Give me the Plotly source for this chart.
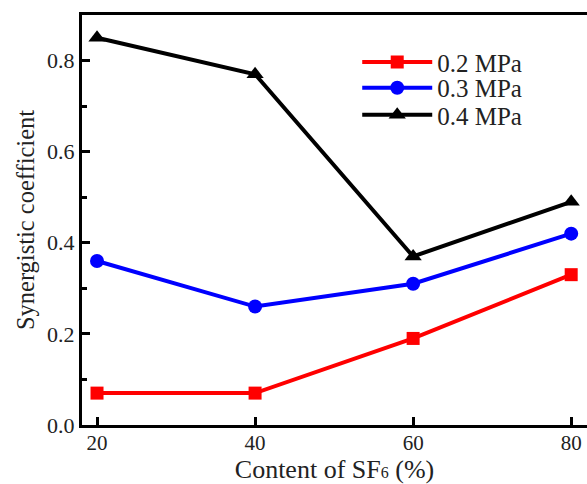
import plotly.graph_objects as go

content = [20, 40, 60, 80]
p02 = [0.07, 0.07, 0.19, 0.33]
p03 = [0.36, 0.26, 0.31, 0.42]
p04 = [0.85, 0.77, 0.37, 0.49]
series_names = ["0.2 MPa", "0.3 MPa", "0.4 MPa"]
colors = ["#ff0000", "#0000ff", "#000000"]
symbols = ["square", "circle", "triangle-up"]
marker_sizes = [13, 14, 15]
legend_ids = ["legend", "legend2", "legend3"]
legend_y = [0.885, 0.822, 0.756]

FONT = "Liberation Serif"

fig = go.Figure()
for name, vals, c, s, ms, lg in zip(series_names, [p02, p03, p04], colors, symbols, marker_sizes, legend_ids):
    fig.add_trace(go.Scatter(
        x=content, y=vals, name=name, mode="lines+markers",
        line=dict(color=c, width=4),
        marker=dict(symbol=s, size=ms, color=c),
        legend=lg,
    ))

legend_common = dict(xanchor="left", yanchor="middle", bgcolor="rgba(0,0,0,0)",
                     font=dict(size=25, family=FONT, color="#222"), itemwidth=70)
leg = {}
for lg, ly in zip(legend_ids, legend_y):
    leg[lg] = dict(x=0.545, y=ly, **legend_common)

fig.update_layout(
    width=587, height=484,
    margin=dict(l=82, r=0, t=15, b=59),
    paper_bgcolor="white", plot_bgcolor="white",
    font=dict(family=FONT, size=22, color="#222"),
    showlegend=True,
    xaxis=dict(
        range=[18.1, 82], tickvals=content, ticktext=[str(v) for v in content],
        showline=True, linecolor="black", linewidth=3, mirror=True,
        ticks="inside", ticklen=8, tickwidth=3, tickcolor="black",
        showgrid=False, zeroline=False, automargin=False,
        ticklabelstandoff=-3,
        title=dict(text='Content of SF<span style="font-size:16px">6</span> (%)',
                   font=dict(size=26, family=FONT), standoff=2),
        tickfont=dict(size=21, family=FONT),
    ),
    yaxis=dict(
        range=[0, 0.9], tickvals=[0, 0.2, 0.4, 0.6, 0.8],
        ticktext=["0.0", "0.2", "0.4", "0.6", "0.8"],
        showline=True, linecolor="black", linewidth=3, mirror=False,
        ticks="inside", ticklen=8, tickwidth=3, tickcolor="black",
        minor=dict(tickvals=[0.1, 0.3, 0.5, 0.7], ticks="inside", ticklen=5, tickwidth=3, tickcolor="black"),
        showgrid=False, zeroline=False, automargin=False,
        title=dict(text="Synergistic coefficient", font=dict(size=24.5, family=FONT), standoff=6),
        tickfont=dict(size=22, family=FONT),
    ),
    **leg,
)

fig.write_html("out.html", config={"displayModeBar": False},
               post_script="document.body.style.margin='0';")
